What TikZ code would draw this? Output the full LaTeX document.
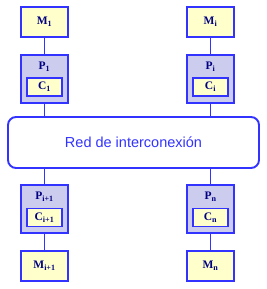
\documentclass[tikz,border=0pt]{standalone}
\usepackage{fontspec}
\setmainfont{Liberation Serif}
\setsansfont{Liberation Sans}
\usetikzlibrary{positioning}
\definecolor{lnblue}{RGB}{51,51,255}
\definecolor{txblue}{RGB}{0,0,128}
\definecolor{memyel}{RGB}{255,255,204}
\definecolor{proclav}{RGB}{204,204,238}
\tikzset{
  box/.style={draw=lnblue,line width=1.4pt,minimum width=47pt,inner sep=0pt,
              font=\bfseries\fontsize{11.5}{13}\selectfont,text=txblue},
  mbox/.style={box,fill=memyel,minimum height=30pt},
  pbox/.style={box,fill=proclav,minimum height=48pt},
  cbox/.style={box,fill=memyel,minimum width=35pt,minimum height=18pt},
  plab/.style={inner sep=0pt,font=\bfseries\fontsize{11.5}{13}\selectfont,text=txblue},
  netbox/.style={draw=lnblue,line width=1.9pt,rounded corners=8pt,fill=white,
                 minimum width=251pt,minimum height=51pt,
                 font=\sffamily\fontsize{14.5}{16}\selectfont,text=lnblue},
  lnk/.style={draw=lnblue,line width=1.4pt},
}

\begin{document}
\begin{tikzpicture}[x=1pt,y=1pt]
\useasboundingbox (0,0) rectangle (266,289);
\node[netbox] (net) at (133.5,146.5) {Red de interconexi\'on};
% upper and lower row of each column
\foreach \x/\n/\up/\dn in {44.5/l/1/i+1, 210.5/r/i/n}{
  \node[mbox] (Mu\n) at (\x,267) {M\textsubscript{\up}};
  \node[pbox] (Pu\n) at (\x,210) {};
  \node[plab] (PuL\n) at (\x,222) {P\textsubscript{\up}};
  \node[cbox] (Cu\n) at (\x,202) {C\textsubscript{\up}};
  \node[pbox] (Pd\n) at (\x,80) {};
  \node[plab] (PdL\n) at (\x,92) {P\textsubscript{\dn}};
  \node[cbox] (Cd\n) at (\x,71.5) {C\textsubscript{\dn}};
  \node[mbox] (Md\n) at (\x,23) {M\textsubscript{\dn}};
  \draw[lnk] (Mu\n) -- (Pu\n);
  \draw[lnk] (Pu\n) -- (Pu\n |- net.north);
  \draw[lnk] (Pd\n) -- (Pd\n |- net.south);
  \draw[lnk] (Pd\n) -- (Md\n);
}
\end{tikzpicture}
\end{document}
